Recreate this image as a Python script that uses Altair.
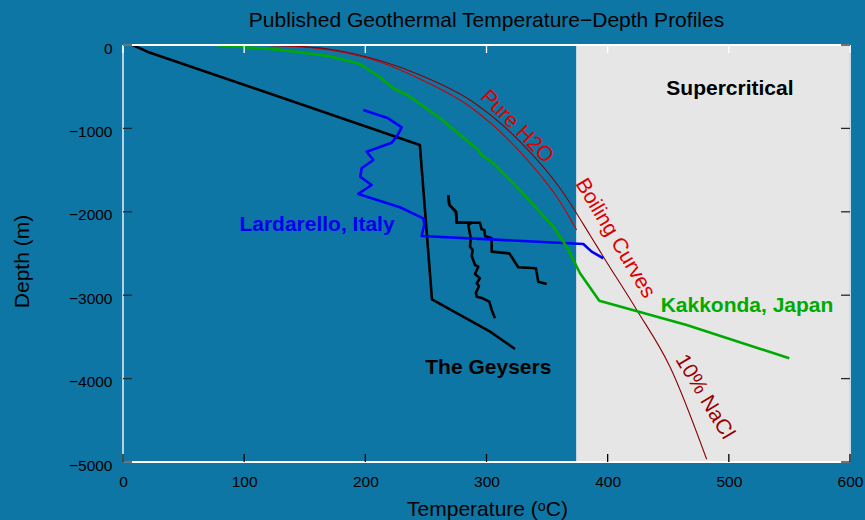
import altair as alt
import pandas as pd

FONT = "Liberation Sans"

# ---------------- data (Temperature in °C, Depth in m) ----------------
# The Geysers main profile
geysers_T = [8, 20, 245, 255, 303, 323.5]
geysers_D = [0, -80, -1199, -3049, -3437, -3645]

# The Geysers wells (shared upper part + two branches)
gw_top_T = [268.5, 269.3, 274.8, 275.4, 287.8]
gw_top_D = [-1799, -1918, -1999, -2131, -2131]
gwa_T = [294.6, 296.0, 298.2, 298.8, 304.3, 304.3, 318.8, 326.2, 340.8, 342.7, 349.7]
gwa_D = [-2131, -2210, -2218, -2290, -2318, -2478, -2498, -2665, -2677, -2838, -2866]
gwb_T = [285.0, 287.0, 286.4, 288.6, 287.8, 290.5, 293.2, 290.5, 294.6, 291.9,
         293.8, 291.3, 291.9, 296.9, 302.3, 304.3, 307.0]
gwb_D = [-2158, -2318, -2418, -2458, -2530, -2638, -2658, -2746, -2797, -2857,
         -2890, -2970, -3018, -3037, -3078, -3177, -3277]

# Lardarello, Italy
lard_T = [198.3, 218.9, 230.0, 225.9, 221.8, 201.1, 206.6, 197.0, 195.8, 205.2,
          194.2, 228.6, 247.8, 248.7, 246.5, 379.9, 386.8, 396.4]
lard_D = [-779, -879, -987, -1099, -1171, -1279, -1379, -1478, -1579, -1679,
          -1786, -1946, -2078, -2146, -2290, -2386, -2478, -2557]

# Kakkonda, Japan
kak_T = [75.9, 129.6, 170.8, 192.9, 198.1, 212.1, 223.1, 236.9, 261.6, 293.2,
         296.0, 305.6, 324.9, 355.1, 366.2, 377.2, 393.1, 465.2, 549.9]
kak_D = [0, -56, -135, -216, -252, -387, -519, -620, -879, -1259,
         -1319, -1418, -1699, -2179, -2418, -2737, -3066, -3357, -3757]

# Boiling curves
h2o_T = [100, 140, 170.8, 212.1, 245.1, 286.4, 327.6, 360.7, 374.4]
h2o_D = [0, -14, -60, -204, -408, -740, -1279, -1879, -2218]
nacl_T = [100, 140, 170.8, 212.0, 245.1, 286.4, 327.7, 360.7, 385.4, 396.4, 424.0, 451.4, 481.7]
nacl_D = [0, -12, -50, -186, -360, -660, -1159, -1718, -2278, -2538, -3177, -3857, -4967]

# supercritical region
crit_T = 374
T_max = 600
D_min = -5000

x_ticks = [0, 100, 200, 300, 400, 500, 600]
y_ticks = [0, -1000, -2000, -3000, -4000, -5000]

# annotations
ann_text = ["Supercritical", "Lardarello, Italy", "The Geysers", "Kakkonda, Japan"]
ann_T = [500.9, 160.1, 301.5, 515.0]
ann_D = [-600, -2230, -3945, -3197]
ann_col = ["#000000", "#0000ee", "#000000", "#00aa00"]

rot_text = ["Pure H2O", "Boiling Curves", "10% NaCl"]
rot_T = [324.9, 406.0, 480.0]
rot_D = [-980, -2320, -4220]
rot_angle = [45, 59, 59]
rot_col = ["#dd0000", "#dd0000", "#990000"]

# ---------------- tables ----------------
def seg(name, T, D, color):
    return pd.DataFrame({"series": name, "T": T, "D": D,
                         "i": list(range(len(T))), "c": color})

profiles = pd.concat([
    seg("geysers", geysers_T, geysers_D, "#000000"),
    seg("well_a", gw_top_T + gwa_T, gw_top_D + gwa_D, "#000000"),
    seg("well_b", gw_top_T + gwb_T, gw_top_D + gwb_D, "#000000"),
    seg("lard", lard_T, lard_D, "#0000ff"),
    seg("kak", kak_T, kak_D, "#00aa00"),
], ignore_index=True)

curves = pd.concat([
    seg("h2o", h2o_T, h2o_D, "#cc0000"),
    seg("nacl", nacl_T, nacl_D, "#8b0000"),
], ignore_index=True)

region = pd.DataFrame({"T": [crit_T], "T2": [T_max], "D": [D_min], "D2": [0]})

frame = pd.DataFrame({
    "T": [0, 0, 0, T_max], "T2": [T_max, T_max, 0, T_max],
    "D": [0, D_min, D_min, D_min], "D2": [0, D_min, 0, 0],
    "c": ["#ffffff", "#ffffff", "#b3d3e4", "#c6dde9"],
})

xt_len = 96   # ~8 px in depth units
yt_len = 7.4  # ~9 px in temperature units
ticks = pd.concat([
    pd.DataFrame({"T": x_ticks, "T2": x_ticks, "D": D_min, "D2": D_min + xt_len, "c": "#000000"}),
    pd.DataFrame({"T": x_ticks, "T2": x_ticks, "D": 0, "D2": -xt_len, "c": "#ffffff"}),
    pd.DataFrame({"T": 0, "T2": yt_len, "D": y_ticks, "D2": y_ticks, "c": "#1e2a30"}),
    pd.DataFrame({"T": T_max, "T2": T_max - yt_len, "D": y_ticks, "D2": y_ticks, "c": "#1e2a30"}),
], ignore_index=True)

ann = pd.DataFrame({"label": ann_text, "T": ann_T, "D": ann_D, "c": ann_col})
rot = pd.DataFrame({"label": rot_text, "T": rot_T, "D": rot_D, "a": rot_angle, "c": rot_col})

# ---------------- encodings ----------------
X = alt.X("T:Q", scale=alt.Scale(domain=[0, T_max], nice=False, zero=False),
          axis=alt.Axis(values=x_ticks, format="d", title="Temperature (\u1d52C)",
                        grid=False, domain=False, ticks=False, labelFlush=False,
                        labelFont=FONT, labelFontSize=15.5, labelColor="black", labelPadding=12,
                        titleFont=FONT, titleFontSize=21, titleFontWeight="normal",
                        titleColor="black", titleX=364, titleY=53,
                        titleBaseline="alphabetic", titleAlign="center"))
Y = alt.Y("D:Q", scale=alt.Scale(domain=[D_min, 0], nice=False, zero=False),
          axis=alt.Axis(values=y_ticks, format="d", title="Depth (m)",
                        grid=False, domain=False, ticks=False, labelFlush=False,
                        labelFont=FONT, labelFontSize=15.5, labelColor="black", labelPadding=11,
                        labelOffset=3,
                        titleFont=FONT, titleFontSize=21, titleFontWeight="normal",
                        titleColor="black", titleAngle=270, titleX=-95, titleY=216,
                        titleBaseline="alphabetic", titleAlign="center"))
C = alt.Color("c:N", scale=None)

rect = alt.Chart(region).mark_rect(color="#e6e6e6").encode(x=X, x2="T2:Q", y=Y, y2="D2:Q")

prof = alt.Chart(profiles).mark_line(strokeWidth=2.6, strokeJoin="round").encode(
    x=X, y=Y, color=C, detail="series:N", order="i:Q")

curv = alt.Chart(curves).mark_line(strokeWidth=1.1, interpolate="monotone").encode(
    x=X, y=Y, color=C, detail="series:N", order="i:Q")

fr = alt.Chart(frame).mark_rule(strokeWidth=2).encode(x=X, x2="T2:Q", y=Y, y2="D2:Q", color=C)
tk = alt.Chart(ticks).mark_rule(strokeWidth=1.3).encode(x=X, x2="T2:Q", y=Y, y2="D2:Q", color=C)

txt = alt.Chart(ann).mark_text(font=FONT, fontSize=21, fontWeight="bold",
                               align="center", baseline="alphabetic").encode(
    x=X, y=Y, text="label:N", color=C)

rtxt = alt.Chart(rot).mark_text(font=FONT, fontSize=21, align="center", baseline="middle").encode(
    x=X, y=Y, text="label:N", color=C, angle=alt.Angle("a:Q", scale=None))

chart = alt.layer(rect, curv, prof, fr, tk, txt, rtxt).properties(
    width=727, height=417,
    title=alt.TitleParams("Published Geothermal Temperature\u2212Depth Profiles",
                          font=FONT, fontSize=21, fontWeight="normal", color="black",
                          anchor="middle", baseline="alphabetic", offset=18, dy=25),
    autosize=alt.AutoSizeParams(type="none"),
    padding={"left": 123, "top": 45, "right": 15, "bottom": 58},
).configure(background="#0e76a5").configure_view(stroke=None)

chart.save("out.html", embed_options={"renderer": "svg", "actions": False})
